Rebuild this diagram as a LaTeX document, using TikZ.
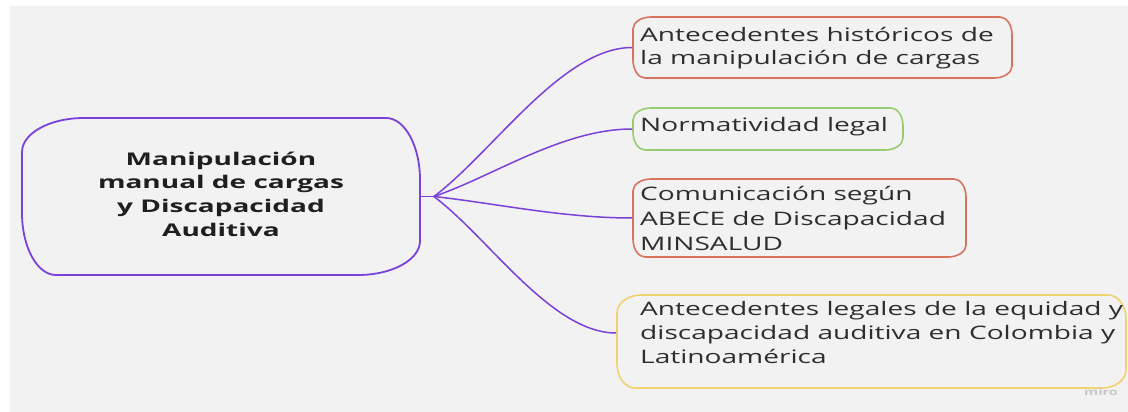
\documentclass[tikz,border=0pt]{standalone}
\usepackage{fontspec}
\newfontfamily\osans[FakeStretch=1.51]{Open Sans}
\newfontfamily\osansb[FakeStretch=1.60]{Open Sans}
\usetikzlibrary{calc}
\definecolor{bg}{HTML}{F2F2F2}
\definecolor{purp}{HTML}{7A42D8}
\definecolor{redb}{HTML}{D7735F}
\definecolor{greenb}{HTML}{98CC72}
\definecolor{yellowb}{HTML}{EED36E}
\definecolor{txt}{HTML}{2E2E2E}
\makeatletter
\tikzset{ellcorners/.code 2 args={\tikz@addoption{\pgfsetcornersarced{\pgfpoint{#1}{#2}}}}}
\makeatother
\tikzset{
  box/.style={draw, line width=1.6pt, inner sep=0pt},
  sub/.style={box, ellcorners={18pt}{12pt}},
  itemtext/.style={font=\osans\fontsize{18.6}{24}\selectfont, text=txt, align=left, anchor=base west, inner sep=0pt},
  conn/.style={draw=purp, line width=1.5pt},
}
\begin{document}
\begin{tikzpicture}[x=1pt, y=-1pt]
\useasboundingbox (0,0) rectangle (1128,412);
\fill[white] (0,0) rectangle (1128,412);
\fill[bg] (10,6.5) rectangle (1128,412);

% central node
\node[box, draw=purp, line width=1.8pt, ellcorners={62pt}{34pt}, minimum width=398pt, minimum height=157pt] (c) at (221,196.5) {};
\node[font=\osansb\bfseries\fontsize{17.5}{23.9}\selectfont, text=black!88, align=center, anchor=base, inner sep=0pt] (ct) at (221,236.7) {Manipulación\\manual de cargas\\y Discapacidad\\Auditiva};

% sub boxes
\node[sub, draw=redb, minimum width=379pt, minimum height=61pt] (b1) at (822.5,47.5) {};
\node[itemtext, font=\osans\fontsize{18.6}{23.4}\selectfont] (t1) at (640,65) {Antecedentes históricos de\\la manipulación de cargas};

\node[sub, draw=greenb, minimum width=270pt, minimum height=42pt] (b2) at (768,129) {};
\node[itemtext] (t2) at (640,131.7) {Normatividad legal};

\node[sub, draw=redb, minimum width=333pt, minimum height=78pt] (b3) at (799.5,218) {};
\node[itemtext, font=\osans\fontsize{18.6}{25}\selectfont] (t3) at (640,250) {Comunicación según\\ABECE de Discapacidad\\MINSALUD};

\node[box, draw=yellowb, ellcorners={24pt}{18pt}, minimum width=509pt, minimum height=93pt] (b4) at (871.5,341.5) {};
\node[itemtext] (t4) at (640,363.3) {Antecedentes legales de la equidad y\\discapacidad auditiva en Colombia y\\Latinoamérica};

% watermark
\node[font=\osans\bfseries\fontsize{9.5}{10}\selectfont, text=black!22, inner sep=0pt] (wm) at (1101,392) {miro};

% connectors
\coordinate (hub) at ($(c.east)+(13,0)$);
\coordinate (e4) at ($(b4.west)+(0,-8.5)$);
\draw[conn] (c.east) -- (hub);
\draw[conn] (hub) .. controls ($(hub)!0.3!(b1.west)$) and ($(b1.west)+(-70,0)$) .. (b1.west);
\draw[conn] (hub) .. controls ($(hub)!0.3!(b2.west)$) and ($(b2.west)+(-70,0)$) .. (b2.west);
\draw[conn] (hub) .. controls ($(hub)!0.3!(b3.west)$) and ($(b3.west)+(-70,0)$) .. (b3.west);
\draw[conn] (hub) .. controls ($(hub)!0.3!(e4)$) and ($(e4)+(-65,0)$) .. (e4);
\end{tikzpicture}
\end{document}
